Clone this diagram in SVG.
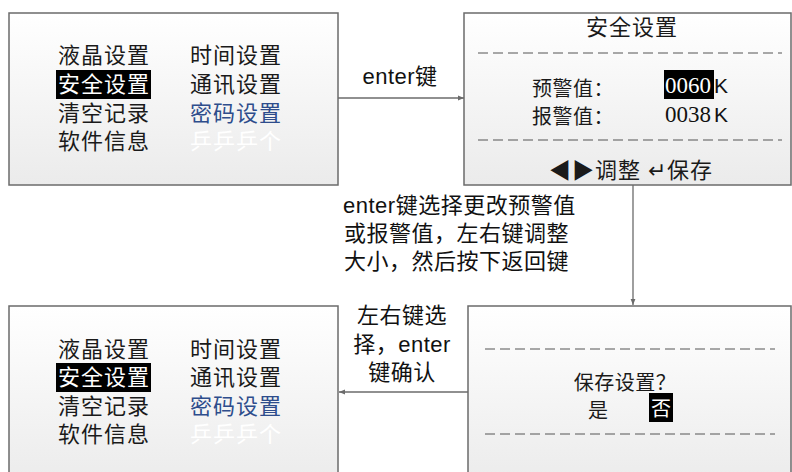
<svg xmlns="http://www.w3.org/2000/svg" width="792" height="472" viewBox="0 0 792 472">
<defs>
<linearGradient id="bg" x1="0" y1="0" x2="0" y2="1">
<stop offset="0" stop-color="#ffffff"/>
<stop offset="1" stop-color="#ebebeb"/>
</linearGradient>
<marker id="arr" viewBox="0 0 10 10" refX="10" refY="5" markerWidth="6" markerHeight="6" orient="auto" markerUnits="userSpaceOnUse">
<path d="M0,1 L10,5 L0,9 z" fill="#6b6b6b"/>
</marker>
<style>
.box{fill:url(#bg);stroke:#6b6b6b;stroke-width:1.5}
.cn{font-family:"Liberation Sans","Noto Sans CJK SC",sans-serif;font-size:22px;letter-spacing:1px;fill:#1a1a1a}
.cs{font-family:"Liberation Sans","Noto Sans CJK SC",sans-serif;font-size:20px;letter-spacing:0.5px;fill:#1a1a1a}
.lbl{font-family:"Liberation Sans","Noto Sans CJK SC",sans-serif;font-size:22px;letter-spacing:0.5px;fill:#111}
.num{font-family:"Liberation Serif","Noto Sans CJK SC",serif;font-size:23px;fill:#111}
.k{font-family:"Liberation Sans",sans-serif;font-size:21px;fill:#111}
.dash{stroke:#555;stroke-width:1;stroke-dasharray:10 5}
.conn{stroke:#6b6b6b;stroke-width:1.3;fill:none}
</style>
</defs>

<g id="menu-top">
<rect class="box" x="9" y="13" width="329" height="172"/>
<text class="cn" x="58" y="63">液晶设置</text>
<rect x="56" y="70" width="95" height="29" fill="#000"/>
<text class="cn" x="58" y="92" style="fill:#fff">安全设置</text>
<text class="cn" x="58" y="121">清空记录</text>
<text class="cn" x="58" y="149">软件信息</text>
<text class="cn" x="190" y="63">时间设置</text>
<text class="cn" x="190" y="92">通讯设置</text>
<text class="cn" x="190" y="121" style="fill:#2e4d8c">密码设置</text>
<text class="cn" x="190" y="149" style="fill:#ffffff">乒乒乒个</text>
</g>

<g id="safety-settings">
<rect class="box" x="464" y="13" width="327" height="172"/>
<text class="cn" x="632" y="35" text-anchor="middle">安全设置</text>
<line class="dash" x1="478" y1="53" x2="782" y2="53"/>
<text class="cs" x="532" y="96">预警值：</text>
<rect x="664" y="70" width="50" height="29" fill="#000"/>
<text class="num" x="665" y="93" style="fill:#fff">0060</text>
<text class="k" x="714" y="93">K</text>
<text class="cs" x="532" y="124">报警值：</text>
<text class="num" x="665" y="122">0038</text>
<text class="k" x="714" y="122">K</text>
<line class="dash" x1="478" y1="140" x2="782" y2="140"/>
<text class="cn" x="631" y="178" text-anchor="middle">◀▶调整 ↵保存</text>
</g>

<g id="menu-bottom">
<rect class="box" x="9" y="306" width="329" height="180"/>
<text class="cn" x="58" y="357">液晶设置</text>
<rect x="56" y="363" width="95" height="29" fill="#000"/>
<text class="cn" x="58" y="385" style="fill:#fff">安全设置</text>
<text class="cn" x="58" y="414">清空记录</text>
<text class="cn" x="58" y="442">软件信息</text>
<text class="cn" x="190" y="357">时间设置</text>
<text class="cn" x="190" y="385">通讯设置</text>
<text class="cn" x="190" y="414" style="fill:#2e4d8c">密码设置</text>
<text class="cn" x="190" y="442" style="fill:#ffffff">乒乒乒个</text>
</g>

<g id="save-confirm">
<rect class="box" x="468" y="306" width="323" height="180"/>
<line class="dash" x1="485" y1="349" x2="775" y2="349"/>
<text class="cs" x="625" y="390" text-anchor="middle">保存设置？</text>
<text class="cs" x="588" y="418">是</text>
<rect x="649" y="393" width="24" height="29" fill="#000"/>
<text class="cs" x="651" y="416" style="fill:#fff">否</text>
<line class="dash" x1="485" y1="434" x2="775" y2="434"/>
</g>

<g id="connectors">
<line class="conn" x1="338" y1="98" x2="464" y2="98" marker-end="url(#arr)"/>
<line class="conn" x1="633" y1="185" x2="633" y2="305" marker-end="url(#arr)"/>
<line class="conn" x1="468" y1="392" x2="339" y2="392" marker-end="url(#arr)"/>
<text class="lbl" x="400" y="84" text-anchor="middle">enter键</text>
<text class="lbl" x="343" y="213">enter键选择更改预警值</text>
<text class="lbl" x="344" y="241">或报警值，左右键调整</text>
<text class="lbl" x="344" y="269">大小，然后按下返回键</text>
<text class="lbl" x="402" y="323" text-anchor="middle">左右键选</text>
<text class="lbl" x="402" y="352" text-anchor="middle">择，enter</text>
<text class="lbl" x="402" y="380" text-anchor="middle">键确认</text>
</g>
</svg>
